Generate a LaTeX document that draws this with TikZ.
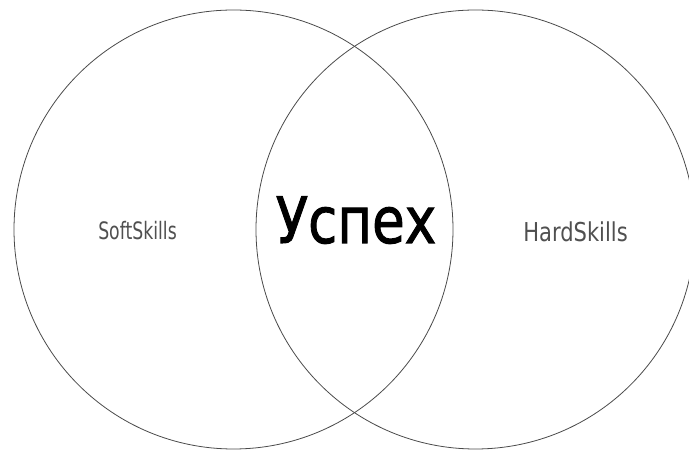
\documentclass[tikz,border=0pt]{standalone}
\usepackage{fontspec}
\setmainfont{DejaVu Sans}
\newfontfamily\succfont[FakeBold=1.6]{DejaVu Sans}
\definecolor{linegray}{HTML}{4A4A4A}
\definecolor{labelgray}{HTML}{505050}
\tikzset{
  venn/.style={draw=linegray, line width=0.8pt},
  sidelabel/.style={text=labelgray, inner sep=0pt, anchor=base},
  mainlabel/.style={text=black, inner sep=0pt, anchor=base}
}
\begin{document}
\begin{tikzpicture}[x=1pt,y=1pt]
\useasboundingbox (0,0) rectangle (689,452);
\begin{scope}
\clip (0,0) rectangle (689,452);
\draw[venn] (233.5,222.5) circle [radius=219.5];
\draw[venn] (475.5,222.5) circle [radius=219.5];
\end{scope}
\node[mainlabel] (succ) at (356,209) {\scalebox{0.83}[1]{\succfont\fontsize{64}{64}\selectfont Успех}};
\node[sidelabel] (soft) at (137.5,212) {\scalebox{0.72}[1]{\fontsize{24}{24}\selectfont SoftSkills}};
\node[sidelabel] (hard) at (575.5,210) {\scalebox{0.81}[1]{\fontsize{26}{26}\selectfont HardSkills}};
\end{tikzpicture}
\end{document}
